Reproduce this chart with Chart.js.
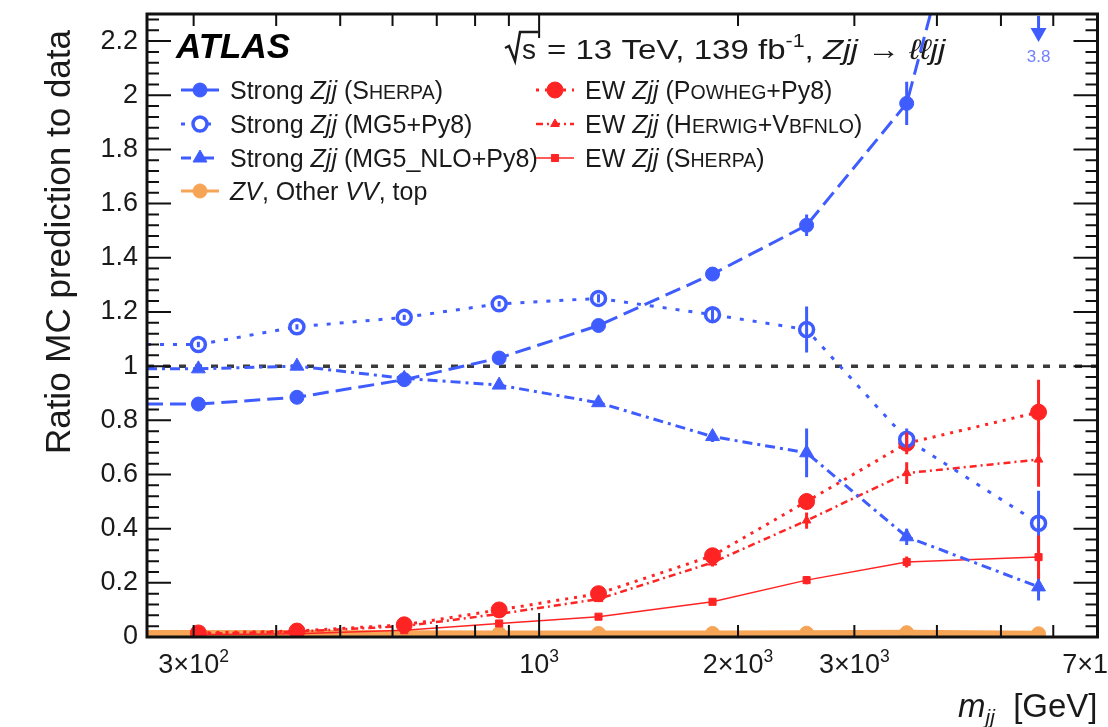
<!DOCTYPE html>
<html>
<head>
<meta charset="utf-8">
<script src="https://cdn.jsdelivr.net/npm/chart.js@4.4.1/dist/chart.umd.min.js"></script>
<style>
  html, body { margin: 0; padding: 0; background: #ffffff; }
  #wrap { width: 1108px; height: 727px; position: relative; }
</style>
</head>
<body>
<div id="wrap"><canvas id="c" width="1108" height="727"></canvas></div>
<script>
// m_jj bin positions [GeV]
const mjj = [305, 430, 625, 870, 1230, 1830, 2540, 3600, 5700];

// Ratio of MC prediction to data, per bin
const strongSherpa    = [0.86, 0.885, 0.95, 1.03, 1.15, 1.34, 1.52, 1.97, 3.8];
const strongSherpaErr = [0.006, 0.006, 0.008, 0.01, 0.012, 0.02, 0.04, 0.08, 0];
const strongMG5       = [1.08, 1.145, 1.18, 1.23, 1.25, 1.19, 1.135, 0.73, 0.42];
const strongMG5Err    = [0.01, 0.01, 0.01, 0.01, 0.015, 0.02, 0.085, 0.04, 0.12];
const strongMG5NLO    = [0.99, 1.0, 0.955, 0.93, 0.865, 0.74, 0.68, 0.37, 0.185];
const strongMG5NLOErr = [0.008, 0.008, 0.01, 0.01, 0.012, 0.02, 0.09, 0.03, 0.05];
const otherBkg        = [0.015, 0.015, 0.014, 0.013, 0.013, 0.013, 0.014, 0.016, 0.012];
const ewPowheg        = [0.015, 0.022, 0.045, 0.10, 0.16, 0.30, 0.50, 0.715, 0.83];
const ewPowhegErr     = [0, 0.002, 0.004, 0.008, 0.01, 0.02, 0.03, 0.04, 0.12];
const ewHerwig        = [0.012, 0.02, 0.04, 0.085, 0.14, 0.275, 0.43, 0.605, 0.655];
const ewHerwigErr     = [0, 0.002, 0.004, 0.006, 0.01, 0.015, 0.03, 0.04, 0.1];
const ewSherpa        = [0.008, 0.012, 0.025, 0.05, 0.075, 0.13, 0.21, 0.277, 0.295];
const ewSherpaErr     = [0, 0.002, 0.003, 0.005, 0.008, 0.01, 0.015, 0.02, 0.08];

// Axis ticks and labels
const yTickValues = [0, 0.2, 0.4, 0.6, 0.8, 1, 1.2, 1.4, 1.6, 1.8, 2, 2.2];
const yTickLabels = ['0', '0.2', '0.4', '0.6', '0.8', '1', '1.2', '1.4', '1.6', '1.8', '2', '2.2'];
const xTickValues = [300, 1000, 2000, 3000, 7000];
const xTickLabels = [['3\u00d710', '2'], ['10', '3'], ['2\u00d710', '3'], ['3\u00d710', '3'], ['7\u00d710', '3']];

// Text pieces: each run is [text, style]; style: n normal, i italic, c small caps, u superscript
const yTitle = 'Ratio MC prediction to data';
const experimentLabel = 'ATLAS';
const energyLabel = [['= 13 TeV, 139 fb', 'n'], ['-1', 'u'], [', ', 'n'], ['Zjj', 'i'], [' \u2192 ', 'n'], ['\u2113\u2113jj', 'i']];
// one label per dataset, in dataset order
const seriesLabels = [
  [['Strong ', 'n'], ['Zjj', 'i'], [' (', 'n'], ['S', 'n'], ['HERPA', 'c'], [')', 'n']],
  [['Strong ', 'n'], ['Zjj', 'i'], [' (MG5+Py8)', 'n']],
  [['Strong ', 'n'], ['Zjj', 'i'], [' (MG5_NLO+Py8)', 'n']],
  [['EW ', 'n'], ['Zjj', 'i'], [' (', 'n'], ['P', 'n'], ['OWHEG', 'c'], ['+Py8)', 'n']],
  [['EW ', 'n'], ['Zjj', 'i'], [' (', 'n'], ['H', 'n'], ['ERWIG', 'c'], ['+V', 'n'], ['BFNLO', 'c'], [')', 'n']],
  [['EW ', 'n'], ['Zjj', 'i'], [' (', 'n'], ['S', 'n'], ['HERPA', 'c'], [')', 'n']],
  [['ZV', 'i'], [', Other ', 'n'], ['VV', 'i'], [', top', 'n']]
];

const BLUE = '#3f5dff';
const RED = '#ff2424';
const ORANGE = '#f6a456';
const TEXT = '#1a1a1a';
const FONT = '"Liberation Sans", "DejaVu Sans", Arial, sans-serif';

function pts(values) {
  return values.map((v, i) => ({ x: mjj[i], y: v }));
}

const datasets = [
  { label: 'strongSherpa', data: pts(strongSherpa), errors: strongSherpaErr,
    borderColor: BLUE, backgroundColor: BLUE, borderWidth: 3, borderDash: [16, 7],
    pointStyle: 'circle', pointRadius: 7, pointBackgroundColor: BLUE, pointBorderColor: BLUE, pointBorderWidth: 1 },
  { label: 'strongMG5', data: pts(strongMG5), errors: strongMG5Err,
    borderColor: BLUE, backgroundColor: BLUE, borderWidth: 3, borderDash: [4, 9],
    pointStyle: 'circle', pointRadius: 7, pointBackgroundColor: '#ffffff', pointBorderColor: BLUE, pointBorderWidth: 3.5 },
  { label: 'strongMG5NLO', data: pts(strongMG5NLO), errors: strongMG5NLOErr,
    borderColor: BLUE, backgroundColor: BLUE, borderWidth: 3, borderDash: [10, 5, 3, 5],
    pointStyle: 'triangle', pointRadius: 8, pointBackgroundColor: BLUE, pointBorderColor: BLUE, pointBorderWidth: 1 },
  { label: 'ewPowheg', data: pts(ewPowheg), errors: ewPowhegErr,
    borderColor: RED, backgroundColor: RED, borderWidth: 3, borderDash: [3, 6],
    pointStyle: 'circle', pointRadius: 8, pointBackgroundColor: RED, pointBorderColor: RED, pointBorderWidth: 1 },
  { label: 'ewHerwig', data: pts(ewHerwig), errors: ewHerwigErr,
    borderColor: RED, backgroundColor: RED, borderWidth: 2.5, borderDash: [7, 4, 2, 4],
    pointStyle: 'triangle', pointRadius: 5, pointBackgroundColor: RED, pointBorderColor: RED, pointBorderWidth: 1 },
  { label: 'ewSherpa', data: pts(ewSherpa), errors: ewSherpaErr,
    borderColor: RED, backgroundColor: RED, borderWidth: 1.5,
    pointStyle: 'rect', pointRadius: 5, pointBackgroundColor: RED, pointBorderColor: RED, pointBorderWidth: 1 },
  { label: 'otherBkg', data: pts(otherBkg),
    borderColor: ORANGE, backgroundColor: ORANGE, borderWidth: 6,
    pointStyle: 'circle', pointRadius: 7, pointBackgroundColor: ORANGE, pointBorderColor: ORANGE, pointBorderWidth: 1 }
];

// Legend layout: [dataset index, marker x, row y]
const legendRows = [
  [0, 200, 90], [1, 200, 124], [2, 200, 158], [6, 200, 191],
  [3, 555, 90], [4, 555, 124], [5, 555, 158]
];

function setFont(ctx, size, style) {
  ctx.font = (style === 'i' ? 'italic ' : '') + size + 'px ' + FONT;
}

function runSize(size, s) {
  return (s === 'c') ? size * 0.78 : (s === 'u') ? size * 0.65 : size;
}

function runsWidth(ctx, runs, size) {
  let w = 0;
  for (const [t, s] of runs) {
    setFont(ctx, runSize(size, s), s);
    w += ctx.measureText(t).width;
  }
  return w;
}

function drawRuns(ctx, runs, x, y, size, color) {
  ctx.fillStyle = color;
  ctx.textBaseline = 'alphabetic';
  ctx.textAlign = 'left';
  let cx = x;
  for (const [t, s] of runs) {
    const sz = runSize(size, s);
    const dy = (s === 'u') ? -size * 0.42 : 0;
    setFont(ctx, sz, s);
    ctx.fillText(t, cx, y + dy);
    cx += ctx.measureText(t).width;
  }
  return cx;
}

// Vertical error bars drawn through the scales
const errorBars = {
  id: 'errorBars',
  afterDatasetsDraw(chart) {
    const ctx = chart.ctx, xs = chart.scales.x, ys = chart.scales.y, a = chart.chartArea;
    ctx.save();
    ctx.beginPath();
    ctx.rect(a.left, a.top, a.right - a.left, a.bottom - a.top);
    ctx.clip();
    chart.data.datasets.forEach(ds => {
      if (!ds.errors) return;
      ctx.strokeStyle = ds.borderColor;
      ctx.lineWidth = 3;
      ctx.setLineDash([]);
      ds.data.forEach((p, i) => {
        const e = ds.errors[i];
        if (!e || p.y > ys.max) return;
        const px = xs.getPixelForValue(p.x);
        ctx.beginPath();
        ctx.moveTo(px, ys.getPixelForValue(p.y - e));
        ctx.lineTo(px, ys.getPixelForValue(p.y + e));
        ctx.stroke();
      });
    });
    ctx.restore();
  }
};

// Reference line at ratio 1, first-bin lead-in, off-scale markers, frame, ticks, labels, legend
const decorations = {
  id: 'decorations',
  beforeDatasetsDraw(chart) {
    const ctx = chart.ctx, xs = chart.scales.x, ys = chart.scales.y, a = chart.chartArea;
    ctx.save();
    ctx.strokeStyle = '#3a3a3a';
    ctx.lineWidth = 3.5;
    ctx.setLineDash([7, 9]);
    const y1 = ys.getPixelForValue(1);
    ctx.beginPath();
    ctx.moveTo(a.left, y1);
    ctx.lineTo(a.right, y1);
    ctx.stroke();

    // each curve starts at the left frame, level with its first bin
    chart.data.datasets.forEach(ds => {
      const p0 = ds.data[0];
      ctx.strokeStyle = ds.borderColor;
      ctx.lineWidth = ds.borderWidth;
      ctx.setLineDash(ds.borderDash || []);
      const py = ys.getPixelForValue(p0.y);
      ctx.beginPath();
      ctx.moveTo(a.left, py);
      ctx.lineTo(xs.getPixelForValue(p0.x), py);
      ctx.stroke();
    });
    ctx.restore();
  },
  afterDraw(chart) {
    const ctx = chart.ctx, xs = chart.scales.x, ys = chart.scales.y, a = chart.chartArea;
    ctx.save();

    // off-scale points: arrow at top with value
    chart.data.datasets.forEach(ds => {
      ds.data.forEach(p => {
        if (p.y <= ys.max) return;
        const px = xs.getPixelForValue(p.x);
        ctx.strokeStyle = ds.borderColor;
        ctx.fillStyle = ds.borderColor;
        ctx.setLineDash([]);
        ctx.lineWidth = 3;
        ctx.beginPath();
        ctx.moveTo(px, a.top + 2);
        ctx.lineTo(px, a.top + 18);
        ctx.stroke();
        ctx.beginPath();
        ctx.moveTo(px - 8, a.top + 14);
        ctx.lineTo(px + 8, a.top + 14);
        ctx.lineTo(px, a.top + 28);
        ctx.closePath();
        ctx.fill();
        ctx.font = '17px ' + FONT;
        ctx.fillStyle = '#7380ff';
        ctx.textAlign = 'center';
        ctx.textBaseline = 'middle';
        ctx.fillText(String(p.y), px, a.top + 43);
      });
    });

    // frame
    ctx.setLineDash([]);
    ctx.strokeStyle = '#111111';
    ctx.lineWidth = 3;
    ctx.strokeRect(a.left, a.top, a.right - a.left, a.bottom - a.top);

    // y ticks (both sides)
    ctx.lineWidth = 2;
    for (let k = 0; k <= 57; k++) {
      const v = k * 0.04;
      if (v > ys.max + 1e-9) break;
      const py = ys.getPixelForValue(v);
      const len = (k % 5 === 0) ? 24 : 12;
      ctx.beginPath();
      ctx.moveTo(a.left, py); ctx.lineTo(a.left + len, py);
      ctx.moveTo(a.right, py); ctx.lineTo(a.right - len, py);
      ctx.stroke();
    }
    // x ticks (log, both sides)
    [100, 1000].forEach(d => {
      for (let m = 1; m <= 9; m++) {
        const v = m * d;
        if (v < xs.min || v > xs.max) continue;
        const px = xs.getPixelForValue(v);
        const len = (m === 1) ? 24 : 12;
        ctx.beginPath();
        ctx.moveTo(px, a.bottom); ctx.lineTo(px, a.bottom - len);
        ctx.moveTo(px, a.top); ctx.lineTo(px, a.top + len);
        ctx.stroke();
      }
    });

    // y tick labels
    ctx.fillStyle = TEXT;
    ctx.font = '27px ' + FONT;
    ctx.textAlign = 'right';
    ctx.textBaseline = 'middle';
    yTickValues.forEach((v, i) => {
      ctx.fillText(yTickLabels[i], a.left - 9, ys.getPixelForValue(v));
    });

    // x tick labels with exponents
    xTickValues.forEach((v, i) => {
      const runs = [[xTickLabels[i][0], 'n'], [xTickLabels[i][1], 'u']];
      const w = runsWidth(ctx, runs, 27);
      const px = xs.getPixelForValue(v);
      drawRuns(ctx, runs, px - w / 2, a.bottom + 36, 27, TEXT);
    });

    // x axis title
    setFont(ctx, 33, 'i');
    const wm = ctx.measureText('m').width;
    setFont(ctx, 21, 'i');
    const wjj = ctx.measureText('jj').width;
    setFont(ctx, 33, 'n');
    const wg = ctx.measureText('  [GeV]').width;
    let tx = a.right - (wm + wjj + wg);
    const ty = 717;
    ctx.fillStyle = TEXT;
    ctx.textAlign = 'left';
    ctx.textBaseline = 'alphabetic';
    setFont(ctx, 33, 'i'); ctx.fillText('m', tx, ty); tx += wm;
    setFont(ctx, 21, 'i'); ctx.fillText('jj', tx, ty + 7); tx += wjj;
    setFont(ctx, 33, 'n'); ctx.fillText('  [GeV]', tx, ty);

    // y axis title
    ctx.save();
    ctx.translate(60, 30);
    ctx.rotate(-Math.PI / 2);
    ctx.font = '35px ' + FONT;
    ctx.textAlign = 'right';
    ctx.textBaseline = 'middle';
    ctx.fillText(yTitle, 0, 0);
    ctx.restore();

    // ATLAS label
    ctx.font = 'italic bold 35px ' + FONT;
    ctx.fillStyle = '#000000';
    ctx.textAlign = 'left';
    ctx.textBaseline = 'middle';
    ctx.fillText(experimentLabel, 176, 48);

    // sqrt(s) label
    const sx = 505, sy = 59;
    ctx.strokeStyle = TEXT;
    ctx.lineWidth = 2.5;
    ctx.beginPath();
    ctx.moveTo(sx, sy - 11);
    ctx.lineTo(sx + 4, sy - 13);
    ctx.lineTo(sx + 10, sy + 2);
    ctx.lineTo(sx + 15, sy - 27);
    ctx.lineTo(sx + 33, sy - 27);
    ctx.stroke();
    drawRuns(ctx, [['s', 'n']], sx + 17, sy, 28, TEXT);
    ctx.save();
    ctx.translate(sx + 42, sy);
    ctx.scale(1.18, 1);
    drawRuns(ctx, energyLabel, 0, 0, 28, TEXT);
    ctx.restore();

    // legend
    legendRows.forEach(([di, mx, my]) => {
      const ds = chart.data.datasets[di];
      ctx.save();
      ctx.strokeStyle = ds.borderColor;
      ctx.lineWidth = Math.min(ds.borderWidth, 3);
      ctx.setLineDash(ds.borderDash || []);
      ctx.beginPath();
      ctx.moveTo(mx - 19, my);
      ctx.lineTo(mx + 19, my);
      ctx.stroke();
      ctx.setLineDash([]);
      ctx.fillStyle = ds.pointBackgroundColor;
      ctx.strokeStyle = ds.pointBorderColor;
      ctx.lineWidth = ds.pointBorderWidth;
      Chart.helpers.drawPoint(ctx, { pointStyle: ds.pointStyle, radius: ds.pointRadius, borderWidth: ds.pointBorderWidth, rotation: 0 }, mx, my);
      ctx.restore();
      drawRuns(ctx, seriesLabels[di], mx + 30, my + 9, 25, TEXT);
    });

    ctx.restore();
  }
};

new Chart(document.getElementById('c'), {
  type: 'line',
  data: { datasets },
  options: {
    responsive: false,
    devicePixelRatio: 1,
    animation: false,
    layout: { padding: { left: 147, right: 8, top: 14, bottom: 90 } },
    elements: { line: { tension: 0, fill: false } },
    scales: {
      x: { type: 'logarithmic', min: 255, max: 7000, display: false },
      y: { type: 'linear', min: 0, max: 2.3, display: false }
    },
    plugins: { legend: { display: false }, tooltip: { enabled: false } }
  },
  plugins: [decorations, errorBars]
});
</script>
</body>
</html>
